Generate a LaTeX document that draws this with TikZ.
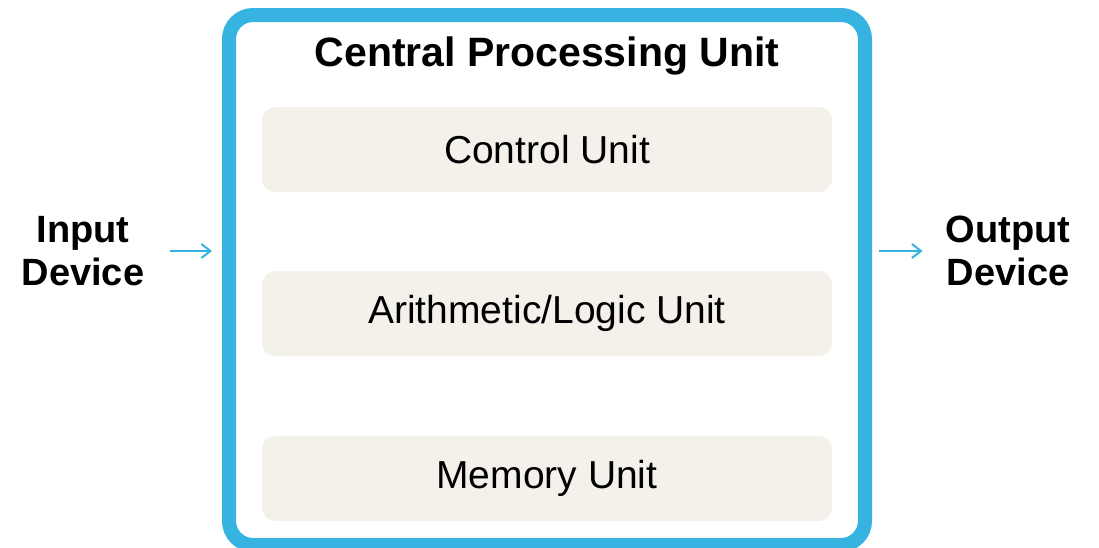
\documentclass[tikz,border=0pt]{standalone}
\usepackage{fontspec}
\setmainfont{Liberation Sans}
\usetikzlibrary{positioning,calc,arrows.meta}
\definecolor{cpublue}{HTML}{36B3E0}
\definecolor{unitgrey}{HTML}{F4F1EB}
\tikzset{font=\fontsize{39}{44}\selectfont}

\begin{document}
\begin{tikzpicture}[x=1pt, y=-1pt]
	\useasboundingbox (0, 0) rectangle (1099, 547);
	\tikzstyle{every node}=[align=center, inner sep=0pt]
	\tikzstyle{unit}=[fill=unitgrey, rounded corners=13pt, minimum width=570pt, minimum height=85pt]
	\tikzstyle{side}=[font=\fontsize{38}{43}\selectfont\bfseries]
	\tikzstyle{flow}=[cpublue, line width=2pt, -{Straight Barb[length=9pt, width=14pt]}]

	\node (cpu) [draw=cpublue, line width=14pt, rounded corners=24pt, minimum width=636pt, minimum height=530pt] at (547, 280) {};
	\node (title) at (547, 56) {\fontsize{41}{46}\selectfont\bfseries Central Processing Unit};

	\node (cu) [unit] at (547, 149.5) {Control Unit};
	\node (alu) [unit] at (547, 313.5) {Arithmetic/Logic Unit};
	\node (mu) [unit] at (547, 478.5) {Memory Unit};

	\node (in) [side] at (83, 251) {Input\\Device};
	\node (out) [side] at (1008, 251) {Output\\Device};

	\draw [flow] ([xshift=26pt]in.east) to ([xshift=-10pt]cpu.west |- in.east);
	\draw [flow] ([xshift=7pt]cpu.east |- out.west) to ([xshift=-23pt]out.west);
\end{tikzpicture}
\end{document}
